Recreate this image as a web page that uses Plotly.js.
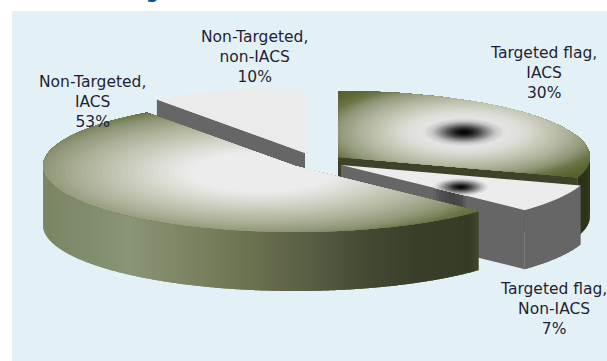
<!DOCTYPE html>
<html><head><meta charset="utf-8">
<script src="https://cdn.plot.ly/plotly-3.0.1.min.js"></script>
<style>html,body{margin:0;padding:0;background:#fff}#c{width:607px;height:361px}</style>
</head><body><div id="c"></div>
<script>
var categories = ['Targeted flag, IACS', 'Targeted flag, Non-IACS', 'Non-Targeted, IACS', 'Non-Targeted, non-IACS'];
var shares = [30, 7, 53, 10];
var labelLines = [['Targeted flag,', 'IACS'], ['Targeted flag,', 'Non-IACS'], ['Non-Targeted,', 'IACS'], ['Non-Targeted,', 'non-IACS']];

// projection of the tilted disc
var RX = 252, RY = 66, DEPTH = 59;
var apex = [[338, 157], [341, 165], [295, 166], [305, 153]];
var labelPos = [[543, 72.5], [553, 308.5], [92, 102], [254, 57]];

var total = shares.reduce(function (a, b) { return a + b; }, 0);
var start = [], end = [], run = 0;
shares.forEach(function (v) { start.push(run / total * 360); run += v; end.push(run / total * 360); });

function rim(i, deg) {
  var t = deg * Math.PI / 180;
  return [apex[i][0] + RX * Math.sin(t), apex[i][1] - RY * Math.cos(t)];
}
function hex(c) { return [parseInt(c.slice(1, 3), 16), parseInt(c.slice(3, 5), 16), parseInt(c.slice(5, 7), 16)]; }
function ramp(stops, t) {
  if (t <= stops[0][0]) return stops[0][1];
  for (var i = 1; i < stops.length; i++) {
    if (t <= stops[i][0]) {
      var f = (t - stops[i - 1][0]) / (stops[i][0] - stops[i - 1][0]);
      var a = hex(stops[i - 1][1]), b = hex(stops[i][1]);
      return 'rgb(' + [0, 1, 2].map(function (k) { return Math.round(a[k] + (b[k] - a[k]) * f); }).join(',') + ')';
    }
  }
  return stops[stops.length - 1][1];
}
var traces = [];
function poly(pts, color) {
  traces.push({
    type: 'scatter', mode: 'none', fill: 'toself', fillcolor: color, hoverinfo: 'skip', showlegend: false,
    x: pts.map(function (p) { return p[0]; }).concat([pts[0][0]]),
    y: pts.map(function (p) { return p[1]; }).concat([pts[0][1]])
  });
}
function sectorPts(i) {
  var pts = [apex[i]], n = 120;
  for (var k = 0; k <= n; k++) pts.push(rim(i, start[i] + (end[i] - start[i]) * k / n));
  return pts;
}
function ellipsePts(cx, cy, a, b) {
  var pts = [], n = 90;
  for (var k = 0; k < n; k++) {
    var t = -k / n * 2 * Math.PI;
    pts.push([cx + a * Math.cos(t), cy + b * Math.sin(t)]);
  }
  return pts;
}
// Sutherland-Hodgman: clip a polygon to a convex one
function clip(subject, hull) {
  var out = subject;
  var area = 0;
  for (var h = 0; h < hull.length; h++) { var q = hull[(h + 1) % hull.length]; area += hull[h][0] * q[1] - q[0] * hull[h][1]; }
  var s = area > 0 ? 1 : -1;
  for (var e = 0; e < hull.length && out.length; e++) {
    var A = hull[e], B = hull[(e + 1) % hull.length], inp = out; out = [];
    var side = function (p) { return s * ((B[0] - A[0]) * (p[1] - A[1]) - (B[1] - A[1]) * (p[0] - A[0])); };
    for (var j = 0; j < inp.length; j++) {
      var P = inp[j], Q = inp[(j + 1) % inp.length], sp = side(P), sq = side(Q);
      if (sp >= 0) out.push(P);
      if ((sp >= 0) !== (sq >= 0)) {
        var f = sp / (sp - sq);
        out.push([P[0] + (Q[0] - P[0]) * f, P[1] + (Q[1] - P[1]) * f]);
      }
    }
  }
  return out;
}
function bbox(pts) {
  var xs = pts.map(function (p) { return p[0]; }), ys = pts.map(function (p) { return p[1]; });
  var x0 = Math.min.apply(0, xs), x1 = Math.max.apply(0, xs), y0 = Math.min.apply(0, ys), y1 = Math.max.apply(0, ys);
  return { cx: (x0 + x1) / 2, cy: (y0 + y1) / 2, hw: (x1 - x0) / 2, hh: (y1 - y0) / 2 };
}
function gradientFace(i, stops, levels, dy) {
  var sec = sectorPts(i), bb = bbox(sec);
  poly(sec, ramp(stops, 1));
  for (var l = levels - 1; l >= 1; l--) {
    var t = l / levels;
    var p = clip(sec, ellipsePts(bb.cx, bb.cy + dy, bb.hw * Math.SQRT2 * t, bb.hh * Math.SQRT2 * t));
    if (p.length > 2) poly(p, ramp(stops, t - 0.5 / levels));
  }
}
function blobFace(i, base, stops, a, b, levels) {
  var sec = sectorPts(i), bb = bbox(sec);
  poly(sec, base);
  for (var l = levels; l >= 1; l--) {
    var t = l / levels;
    var p = clip(sec, ellipsePts(bb.cx, bb.cy - 0.5, a * t, b * t));
    if (p.length > 2) poly(p, ramp(stops, t - 0.5 / levels));
  }
}
function rimWall(i, d0, d1, colorAt) {
  var n = Math.max(2, Math.round((d1 - d0) * 1.2));
  for (var k = 0; k < n; k++) {
    var a = d0 + (d1 - d0) * k / n, b = d0 + (d1 - d0) * Math.min(k + 2, n) / n, pts = [], m = 6;
    for (var q = 0; q <= m; q++) pts.push(rim(i, a + (b - a) * q / m));
    for (q = m; q >= 0; q--) { var r = rim(i, a + (b - a) * q / m); pts.push([r[0], r[1] + DEPTH]); }
    poly(pts, colorAt(rim(i, a + (d1 - d0) / n / 2)[0]));
  }
}
function cutWall(i, deg, color) {
  var c = rim(i, deg), o = apex[i];
  poly([o, c, [c[0], c[1] + DEPTH], [o[0], o[1] + DEPTH]], color);
}

var oliveStops = [[0.23, '#ececec'], [0.33, '#dcddd6'], [0.45, '#c6c9b8'], [0.58, '#aeb29b'], [0.71, '#8e9576'], [0.8, '#6c7549'], [0.88, '#5c6833'], [1, '#525f2a']];
var coreStops = [[0, '#000000'], [0.04, '#141414'], [0.085, '#4a4a4a'], [0.13, '#8a8a8a'], [0.175, '#c4c4c4'], [0.23, '#e4e4e4'], [0.33, '#dcddd6'], [0.45, '#c6c9b8'], [0.58, '#aeb29b'], [0.71, '#8e9576'], [0.8, '#6c7549'], [0.88, '#5c6833'], [1, '#525f2a']];
var smallBlob = [[0, '#000000'], [0.25, '#2a2a2a'], [0.55, '#808080'], [0.8, '#c8c8c8'], [1, '#ececec']];
var wallOlive = [[43, '#7a8564'], [130, '#8a9476'], [200, '#79815f'], [260, '#686f4d'], [320, '#555b41'], [370, '#434932'], [420, '#383e29'], [470, '#363c27'], [479, '#42482f']];

// 10% slice (back)
cutWall(3, start[3], '#666666');
poly(sectorPts(3), '#ebebeb');

// 30% slice
rimWall(0, 85, end[0], function () { return '#2d341b'; });
cutWall(0, end[0], '#3c4329');
gradientFace(0, coreStops, 60, -2);

// 7% slice
rimWall(1, start[1], end[1], function () { return '#666666'; });
cutWall(1, end[1], '#666666');
(function () {
  var c = rim(1, end[1]), o = apex[1];
  var stops = [[433, '#666666'], [440, '#505050'], [452, '#444444'], [462, '#4c4c4c'], [466, '#666666']];
  for (var x = 433; x < 466; x += 3) {
    var y = o[1] + (c[1] - o[1]) * (x - o[0]) / (c[0] - o[0]);
    var y2 = o[1] + (c[1] - o[1]) * (x + 3 - o[0]) / (c[0] - o[0]);
    poly([[x, y], [x + 3, y2], [x + 3, y2 + DEPTH], [x, y + DEPTH]], ramp(stops, x + 1.5));
  }
})();
blobFace(1, '#ececec', smallBlob, 28, 9, 22);

// 53% slice (front)
rimWall(2, end[1], 272, function (x) { return ramp(wallOlive, x); });
gradientFace(2, oliveStops, 60, 0);

var annotations = categories.map(function (c, i) {
  return {
    xref: 'x', yref: 'y', x: labelPos[i][0], y: labelPos[i][1], xanchor: 'center', yanchor: 'middle',
    text: labelLines[i].concat([shares[i] + '%']).join('<br>'), showarrow: false,
    font: { family: '"DejaVu Sans", sans-serif', size: 15.5, color: '#1f1f33' }
  };
});
annotations.push({
  xref: 'x', yref: 'y', x: 152, y: 3, xanchor: 'center', yanchor: 'bottom', text: '<b>g</b>', showarrow: false,
  font: { family: '"DejaVu Sans", sans-serif', size: 18, color: '#0b4ea2' }, borderpad: 0
});

Plotly.newPlot('c', traces, {
  width: 607, height: 361, margin: { l: 0, r: 0, t: 0, b: 0 }, showlegend: false,
  paper_bgcolor: '#ffffff', plot_bgcolor: '#ffffff', hovermode: false,
  xaxis: { range: [0, 607], visible: false, fixedrange: true },
  yaxis: { range: [361, 0], visible: false, fixedrange: true },
  shapes: [{ type: 'rect', layer: 'below', xref: 'x', yref: 'y', x0: 12, x1: 607, y0: 11, y1: 361, fillcolor: '#e3f1f6', line: { width: 0 } }],
  annotations: annotations
}, { displayModeBar: false, staticPlot: true });
</script></body></html>
